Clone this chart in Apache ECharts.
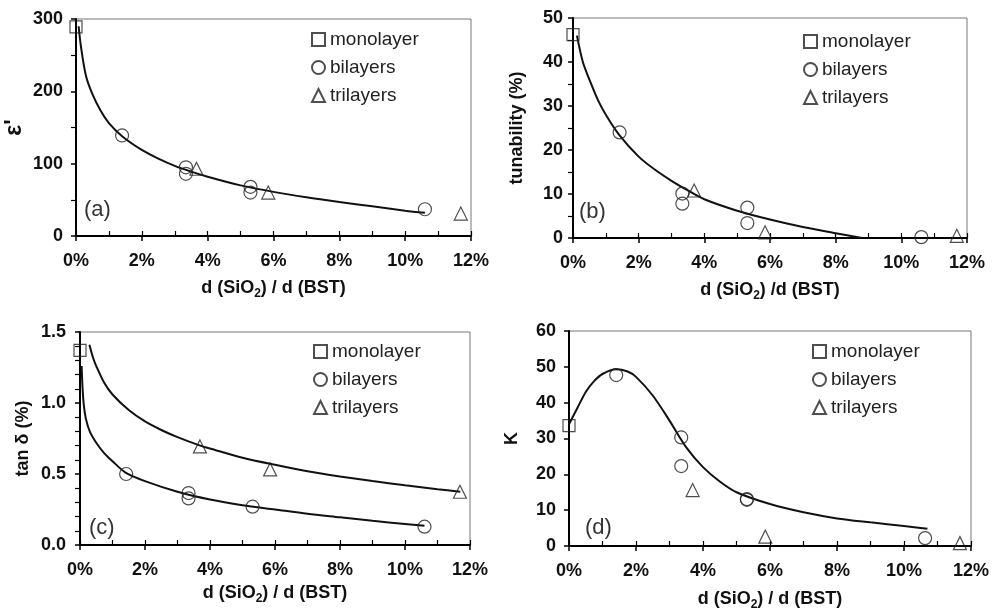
<!DOCTYPE html>
<html>
<head>
<meta charset="utf-8">
<script src="https://cdn.jsdelivr.net/npm/echarts@6/dist/echarts.min.js"></script>
<style>
  html, body { margin: 0; padding: 0; background: #fff; }
  #chart { width: 992px; height: 612px; }
</style>
</head>
<body>
<div id="chart"></div>
<script>
// x = d(SiO2)/d(BST) in %
// (a) permittivity
const monoA = [[0, 289]];
const biA = [[1.4, 139], [3.34, 95], [3.34, 86], [5.3, 68], [5.3, 60], [10.6, 37]];
const triA = [[3.66, 93], [5.84, 60], [11.69, 31]];
const fitA = [[0.08, 290], [0.15, 262], [0.3, 222], [0.5, 196], [0.75, 173], [1, 156], [1.4, 138], [2, 119],
  [2.5, 107], [3, 97], [3.5, 89], [4, 82], [5, 70], [6, 61], [7, 53.5], [8, 47], [9, 41], [10, 35], [10.6, 32]];

// (b) tunability
const monoB = [[0, 46.2]];
const biB = [[1.42, 24], [3.33, 10.1], [3.33, 7.8], [5.31, 6.9], [5.31, 3.4], [10.61, 0.2]];
const triB = [[3.69, 10.8], [5.85, 1.3], [11.69, 0.5]];
const fitB = [[0.12, 46], [0.3, 40], [0.5, 36], [0.75, 31.5], [1, 28], [1.4, 23.5], [2, 18.5], [2.5, 15.5],
  [3, 13], [3.5, 10.8], [4, 8.8], [5, 6.2], [6, 4.2], [7, 2.5], [8, 1.1], [8.8, 0]];

// (c) tan delta
const monoC = [[0, 1.37]];
const biC = [[1.42, 0.5], [3.34, 0.366], [3.34, 0.328], [5.31, 0.27], [10.6, 0.129]];
const triC = [[3.69, 0.694], [5.85, 0.532], [11.69, 0.375]];
const fitCbi = [[0.05, 1.26], [0.08, 1.1], [0.12, 0.98], [0.18, 0.89], [0.3, 0.8], [0.5, 0.72], [0.75, 0.645],
  [1, 0.59], [1.4, 0.51], [2, 0.45], [3, 0.375], [4, 0.32], [5, 0.28], [6, 0.25], [7, 0.22], [8, 0.195],
  [9, 0.17], [10, 0.148], [10.6, 0.135]];
const fitCtri = [[0.29, 1.41], [0.4, 1.32], [0.5, 1.26], [0.75, 1.14], [1, 1.06], [1.5, 0.95], [2, 0.87],
  [2.5, 0.81], [3, 0.76], [3.7, 0.7], [4, 0.68], [5, 0.615], [6, 0.565], [7, 0.52], [8, 0.483], [9, 0.45],
  [10, 0.42], [11, 0.393], [11.7, 0.375]];

// (d) K
const monoD = [[0, 33.6]];
const biD = [[1.41, 47.7], [3.35, 30.3], [3.35, 22.3], [5.31, 12.9], [5.31, 13.1], [10.63, 2.2]];
const triD = [[3.69, 15.6], [5.86, 2.6], [11.67, 0.8]];
const fitD = [[0, 34], [0.25, 38.5], [0.5, 43], [0.75, 46], [1, 48], [1.4, 49.3], [1.75, 48.7], [2, 47.2],
  [2.5, 42], [3, 35], [3.5, 27.5], [4, 22], [4.5, 18], [5, 15], [6, 11.7], [7, 9.4], [8, 7.7], [9, 6.6],
  [10, 5.6], [10.7, 4.8]];

const legendNames = ['monolayer', 'bilayers', 'trilayers'];
const panelTags = ['(a)', '(b)', '(c)', '(d)'];

const FONT = 'Liberation Sans, Arial, sans-serif';
const ink = '#111';

let chart = echarts.init(document.getElementById('chart'), null, { renderer: 'canvas' });

const grids = [
  { left: 76, top: 19, width: 395, height: 217 },
  { left: 573, top: 18, width: 394, height: 220 },
  { left: 80, top: 332, width: 390, height: 213 },
  { left: 569, top: 331, width: 402, height: 217 }
];

const yCfg = [
  { max: 300, interval: 100, split: 2, name: "ε'", size: 23, gap: 50, margin: 13, fmt: v => v },
  { max: 50, interval: 10, split: 2, name: 'tunability (%)', size: 18, gap: 47, margin: 10, fmt: v => v },
  { max: 1.5, interval: 0.5, split: 5, name: 'tan δ (%)', size: 18, gap: 48, margin: 14, fmt: v => v.toFixed(1) },
  { max: 60, interval: 10, split: 0, name: 'K', size: 18, gap: 48, margin: 13, fmt: v => v }
];
const xNames = [
  'd (SiO{sub|2}) / d (BST)',
  'd (SiO{sub|2}) /d (BST)',
  'd (SiO{sub|2}) / d (BST)',
  'd (SiO{sub|2}) / d (BST)'
];
const xGaps = [40, 40, 36, 41];

let xAxes = [], yAxes = [];
grids.forEach((g, i) => {
  xAxes.push({
    type: 'value', gridIndex: i, position: 'bottom', min: 0, max: 12, interval: 2,
    name: xNames[i], nameLocation: 'middle', nameGap: xGaps[i],
    nameTextStyle: {
      fontFamily: FONT, fontWeight: 'bold', fontSize: 18, color: ink, lineHeight: 24,
      rich: { sub: { fontFamily: FONT, fontWeight: 'bold', fontSize: 12, lineHeight: 14, verticalAlign: 'bottom', color: ink } }
    },
    axisLine: { lineStyle: { color: '#000', width: 2 } },
    axisTick: { length: 5, lineStyle: { color: '#000', width: 1.5 } },
    axisLabel: { formatter: '{value}%', fontFamily: FONT, fontWeight: 'bold', fontSize: 18, color: ink, margin: 16 },
    splitLine: { show: false }
  });
  // small inner ticks every 1 %
  xAxes.push({
    type: 'value', gridIndex: i, position: 'bottom', min: 0, max: 12, interval: 1,
    axisLine: { show: false },
    axisTick: { inside: true, length: 5, lineStyle: { color: '#000', width: 1.2 } },
    axisLabel: { show: false },
    splitLine: { show: false }
  });
  const c = yCfg[i];
  yAxes.push({
    type: 'value', gridIndex: i, min: 0, max: c.max, interval: c.interval,
    name: c.name, nameLocation: 'middle', nameGap: c.gap,
    nameTextStyle: { fontFamily: FONT, fontWeight: 'bold', fontSize: c.size, color: ink },
    axisLine: { show: true, lineStyle: { color: '#000', width: 2 } },
    axisTick: { show: true, length: 5, lineStyle: { color: '#000', width: 1.5 } },
    minorTick: { show: c.split > 0, splitNumber: c.split || 2, length: 5, lineStyle: { color: '#000', width: 1.2 } },
    axisLabel: { formatter: c.fmt, fontFamily: FONT, fontWeight: 'bold', fontSize: 18, color: ink, margin: c.margin },
    splitLine: { show: false }
  });
});

const hollow = { color: 'rgba(0,0,0,0)', borderColor: '#222', borderWidth: 1.2 };
function pts(name, data, i, symbol, size) {
  return {
    type: 'scatter', name: name, data: data, xAxisIndex: i * 2, yAxisIndex: i,
    symbol: symbol, symbolSize: size, itemStyle: hollow, z: 3, silent: true
  };
}
function fit(data, i) {
  return {
    type: 'line', name: 'fit' + i, data: data, xAxisIndex: i * 2, yAxisIndex: i,
    showSymbol: false, smooth: 0.3, lineStyle: { color: '#111', width: 2 }, z: 2, silent: true
  };
}

const panels = [
  [monoA, biA, triA, [fitA]],
  [monoB, biB, triB, [fitB]],
  [monoC, biC, triC, [fitCbi, fitCtri]],
  [monoD, biD, triD, [fitD]]
];
let series = [];
panels.forEach((p, i) => {
  p[3].forEach(f => series.push(fit(f, i)));
  series.push(pts('monolayer', p[0], i, 'rect', 12));
  series.push(pts('bilayers', p[1], i, 'circle', 13));
  series.push(pts('trilayers', p[2], i, 'triangle', 13));
});

const legendPos = [[306, 25], [798, 27], [308, 337], [807, 337]];
const legends = legendPos.map(p => ({
  data: legendNames, orient: 'vertical', left: p[0], top: p[1], itemGap: 9,
  itemWidth: 13, itemHeight: 13, selectedMode: false,
  textStyle: { fontFamily: FONT, fontSize: 19, color: '#222' }
}));

const tagPos = [[84, 199], [579, 201], [89, 517], [585, 517]];
const graphics = tagPos.map((p, i) => ({
  type: 'text', left: p[0], top: p[1],
  style: { text: panelTags[i], font: '22px ' + FONT, fill: '#333' }
}));

let option = {
  animation: false,
  backgroundColor: '#fff',
  grid: grids.map(g => Object.assign({ show: true, borderColor: '#777', borderWidth: 1 }, g)),
  xAxis: xAxes,
  yAxis: yAxes,
  legend: legends,
  graphic: graphics,
  series: series
};
chart.setOption(option);
</script>
</body>
</html>
